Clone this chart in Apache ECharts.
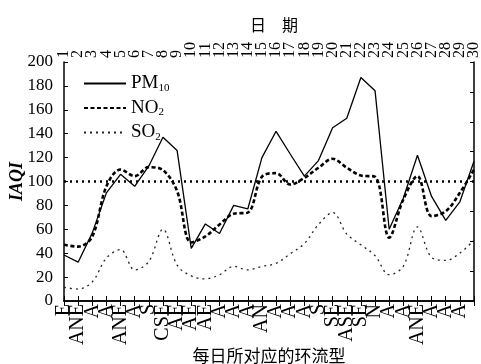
<!DOCTYPE html>
<html><head><meta charset="utf-8">
<script src="https://cdn.jsdelivr.net/npm/echarts@6/dist/echarts.min.js"></script>
<style>html,body{margin:0;padding:0;background:#fff}#c{width:481px;height:364px}</style>
</head><body><div id="c"></div>
<script>
const days = Array.from({length:30},(_,i)=>String(i+1));
const circulation = ['E','ANE','A','A','ANE','A','S','CSE','AE','AE','AE','A','A','A','AN','A','A','A','S','SE','ASE','SE','N','A','A','ANE','A','A','A',''];
const pm10 = [38.5,32.5,57,90.5,106,96,113,137,126,44,64.5,56.5,80,77,120,142,123,104.5,117.5,145,153,187,176,60,86,122,87.5,67.5,83,117];
const no2  = [47,45.5,54,96,110,104.5,112,109.5,92,49,54,64,73,74,104,107,97.5,103,111.5,119,111.5,105,104,53,85,104.5,71,75,90.5,110];
const so2  = [11.5,10,16,36,43,26,33,60,30,21,18.5,22,29,26,29,31.5,39.5,48,64,74,56,47,38,22,29,62,36.5,34,40,51];
const yTicks = {min:0,max:200,interval:20};
const threshold = 100;

const serif = 'Liberation Serif';
const cjk = 'Noto Sans CJK SC';
const chart = echarts.init(document.getElementById('c'));
const legendNames = {PM10:'{a|PM}{s|10}', NO2:'{a|NO}{s|2}', SO2:'{a|SO}{s|2}'};
chart.setOption({
  animation:false,
  backgroundColor:'#fff',
  grid:{left:64,right:7,top:62,bottom:63,containLabel:false,outerBoundsMode:'none'},
  title:{text:'日　期',left:269,top:12,textAlign:'center',
    textStyle:{fontFamily:cjk,fontSize:16,fontWeight:'normal',color:'#000'}},
  legend:{orient:'vertical',left:78,top:69,itemWidth:42,itemHeight:14,itemGap:5,
    data:['PM10','NO2','SO2'],
    formatter:n=>legendNames[n],
    itemStyle:{color:'rgba(0,0,0,0)',borderWidth:0,opacity:0},
    textStyle:{fontFamily:serif,color:'#000',
      rich:{a:{fontFamily:serif,fontSize:19,color:'#000'},
            s:{fontFamily:serif,fontSize:11,color:'#000',padding:[9,0,0,0]}}}},
  xAxis:[
    {type:'category',data:circulation,boundaryGap:false,position:'bottom',
     name:'每日所对应的环流型',nameLocation:'middle',nameGap:46,nameMoveOverlap:false,
     nameTextStyle:{fontFamily:cjk,fontSize:17,color:'#000'},
     axisLine:{lineStyle:{color:'#000',width:1.5}},
     axisTick:{inside:true,length:5,interval:0,lineStyle:{color:'#000'}},
     axisLabel:{interval:0,rotate:90,margin:3,fontFamily:serif,fontSize:20,color:'#000'}},
    {type:'category',data:days,boundaryGap:false,position:'top',
     axisLine:{lineStyle:{color:'#000',width:1.5}},
     axisTick:{inside:true,length:5,interval:0,lineStyle:{color:'#000'}},
     axisLabel:{interval:0,rotate:90,margin:4,fontFamily:serif,fontSize:16,color:'#000'}}
  ],
  yAxis:[
    {type:'value',min:yTicks.min,max:yTicks.max,interval:yTicks.interval,position:'left',
     name:'IAQI',nameLocation:'middle',nameGap:38,nameMoveOverlap:false,
     nameTextStyle:{fontFamily:serif,fontSize:18,fontStyle:'italic',fontWeight:'bold',color:'#000'},
     splitLine:{show:false},
     axisLine:{show:true,lineStyle:{color:'#000',width:1.5}},
     axisTick:{show:true,inside:true,length:4,lineStyle:{color:'#000'}},
     axisLabel:{margin:11,fontFamily:serif,fontSize:17,color:'#000'}},
    {type:'value',min:0,max:200,interval:25,position:'right',
     splitLine:{show:false},
     axisLine:{show:true,lineStyle:{color:'#000',width:1.5}},
     axisTick:{show:true,inside:true,length:4,lineStyle:{color:'#000'}},
     axisLabel:{show:false}}
  ],
  series:[
    {name:'PM10',type:'line',data:pm10,symbol:'none',
     lineStyle:{color:'#000',width:1.3,type:'solid'},itemStyle:{color:'#000'},
     markLine:{silent:true,symbol:'none',label:{show:false},
       lineStyle:{color:'#000',width:2.5,type:[2,4]},data:[{yAxis:threshold}]}},
    {name:'NO2',type:'line',data:no2,symbol:'none',smooth:0.35,
     lineStyle:{color:'#000',width:2.6,type:[4,2.5]},itemStyle:{color:'#000'}},
    {name:'SO2',type:'line',data:so2,symbol:'none',smooth:0.35,
     lineStyle:{color:'#222',width:1.3,type:[2,4]},itemStyle:{color:'#222'}}
  ]
});
</script></body></html>
